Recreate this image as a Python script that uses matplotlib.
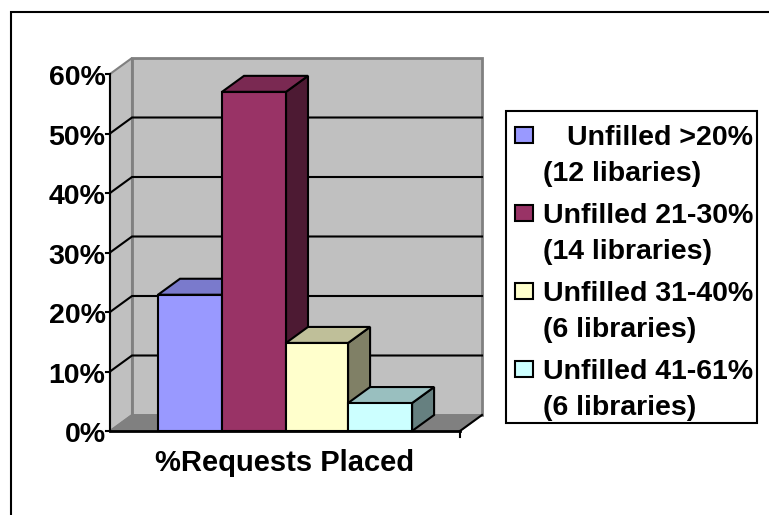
import matplotlib
matplotlib.use("Agg")
import matplotlib.pyplot as plt
from matplotlib.patches import Polygon, Rectangle

plt.rcParams["font.family"] = ["Liberation Sans", "DejaVu Sans"]

categories = ["Unfilled >20%", "Unfilled 21-30%", "Unfilled 31-40%", "Unfilled 41-61%"]
library_notes = ["(12 libaries)", "(14 libraries)", "(6 libraries)", "(6 libraries)"]
values = [22.9, 57, 14.8, 4.7]
bar_widths = [1.0, 1.0, 0.97, 1.0]
front_colors = ["#9999FF", "#993366", "#FFFFCC", "#CCFFFF"]
top_colors = ["#7A7ACC", "#7A2952", "#BFBF99", "#99BFBF"]
side_colors = ["#5C5C99", "#4D1A33", "#808066", "#668080"]
y_ticks = [0, 10, 20, 30, 40, 50, 60]
x_label = "%Requests Placed"

W, H = 769, 515
DX, DY = 22 / 64, 16 / 5.95  # depth of the 3d look, in data units
X_MAX = 350 / 64
START = 48 / 64

fig = plt.figure(figsize=(W / 100, H / 100), dpi=100, facecolor="white")
ax = fig.add_axes([110 / W, (H - 431) / H, 350 / W, 357 / H])
ax.set_xlim(0, X_MAX)
ax.set_ylim(0, 60)
ax.axis("off")

# walls and floor
wall = "#C0C0C0"
edge = "#808080"
ax.add_patch(Polygon([(DX, 0 + DY), (X_MAX + DX, DY), (X_MAX + DX, 60 + DY), (DX, 60 + DY)],
                     fc=wall, ec=edge, lw=2, clip_on=False, zorder=1))
ax.add_patch(Polygon([(0, 0), (DX, DY), (DX, 60 + DY), (0, 60)],
                     fc=wall, ec=edge, lw=1.5, clip_on=False, zorder=1))
ax.add_patch(Polygon([(0, 0), (X_MAX, 0), (X_MAX + DX, DY), (DX, DY)],
                     fc=edge, ec=edge, lw=1, clip_on=False, zorder=1))

# gridlines run along the side wall and the back wall
for t in y_ticks[1:-1]:
    ax.plot([0, DX, X_MAX + DX], [t, t + DY, t + DY], color="black", lw=1.5, clip_on=False,
            zorder=2, solid_joinstyle="miter")
ax.plot([X_MAX, X_MAX + DX], [0, DY], color="black", lw=1.5, clip_on=False, zorder=2)

# bars, drawn back to front so the next bar covers the previous side face
pos = START
for val, w, fc, tc, sc in zip(values, bar_widths, front_colors, top_colors, side_colors):
    ax.add_patch(Polygon([(pos + w, 0), (pos + w + DX, DY), (pos + w + DX, val + DY), (pos + w, val)],
                         fc=sc, ec="black", lw=1.5, clip_on=False, zorder=3, joinstyle="miter"))
    ax.add_patch(Polygon([(pos, val), (pos + DX, val + DY), (pos + w + DX, val + DY), (pos + w, val)],
                         fc=tc, ec="black", lw=1.5, clip_on=False, zorder=3, joinstyle="miter"))
    ax.bar(pos, val, width=w, align="edge", color=fc, edgecolor="black", lw=1.5, zorder=3, clip_on=False)
    pos += w

# axes lines and ticks
ax.plot([0, 0], [0, 60], color="black", lw=1.5, clip_on=False, zorder=4)
ax.plot([0, X_MAX], [0, 0], color="black", lw=2, clip_on=False, zorder=4)
ax.plot([X_MAX, X_MAX], [0, -1], color="black", lw=1.5, clip_on=False, zorder=4)
for t in y_ticks:
    ax.plot([-0.06, 0], [t, t], color="black", lw=1.5, clip_on=False, zorder=4)
    ax.text(-0.07, t - 0.75, f"{t}%", ha="right", va="center", fontsize=20.5, fontweight="bold", clip_on=False)

fig.text(285 / W, 1 - 463 / H, x_label, ha="center", va="center", fontsize=21, fontweight="bold")

# legend box, with text by hand because the first entry is pushed to the right
fig.add_artist(Rectangle((506 / W, 1 - 423 / H), 251 / W, 312 / H, transform=fig.transFigure,
                         fc="white", ec="black", lw=1.5))
row_y = [135, 213, 291, 369]
for i, (cat, note) in enumerate(zip(categories, library_notes)):
    y0 = row_y[i]
    fig.add_artist(Rectangle((515 / W, 1 - (y0 + 8) / H), 18 / W, 16 / H, transform=fig.transFigure,
                             fc=front_colors[i], ec="black", lw=1.5))
    x_text = 567 if i == 0 else 543
    fig.text(x_text / W, 1 - (y0 + 3) / H, cat, ha="left", va="center", fontsize=20.5, fontweight="bold")
    fig.text(543 / W, 1 - (y0 + 39) / H, note, ha="left", va="center", fontsize=20.5, fontweight="bold")

# outer frame of the pasted chart: only the top and left edges are in view
fig.add_artist(plt.Line2D([11 / W, 11 / W, 1], [0, 1 - 12 / H, 1 - 12 / H], transform=fig.transFigure,
                          color="black", lw=1.5, solid_joinstyle="miter"))

fig.savefig("out.png", dpi=100)
